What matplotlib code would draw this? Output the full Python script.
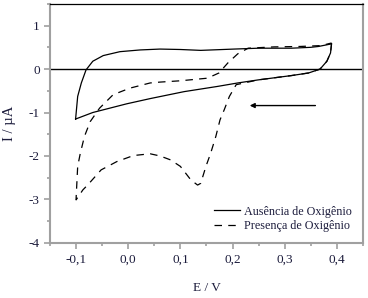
import numpy as np
import matplotlib
matplotlib.use('Agg')
import matplotlib.pyplot as plt
from matplotlib.ticker import MultipleLocator, FuncFormatter

plt.rcParams['font.family'] = ['Liberation Serif', 'DejaVu Serif']

# Ausencia de oxigenio (closed voltammogram loop)
e_sem = [-0.101, -0.097, -0.090, -0.081, -0.068, -0.048, -0.016, 0.023, 0.061, 0.10, 0.139,
         0.203, 0.25, 0.313, 0.35, 0.365, 0.39, 0.388, 0.381, 0.368, 0.346, 0.313, 0.249,
         0.21, 0.171, 0.107, 0.042, -0.003, -0.068, -0.101]
i_sem = [-1.15, -0.63, -0.32, -0.02, 0.18, 0.31, 0.40, 0.44, 0.46, 0.45, 0.43,
         0.46, 0.48, 0.48, 0.50, 0.52, 0.58, 0.37, 0.18, 0.0, -0.09, -0.15, -0.25,
         -0.32, -0.40, -0.52, -0.68, -0.80, -1.0, -1.15]

# Presenca de oxigenio
e_com = [0.39, 0.388, 0.381, 0.368, 0.346, 0.313, 0.249, 0.207, 0.194, 0.184, 0.176,
         0.168, 0.158, 0.149, 0.139, 0.133, 0.12, 0.10, 0.081, 0.061, 0.042, 0.01,
         -0.022, -0.052, -0.078, -0.087, -0.1,
         -0.1, -0.097, -0.092, -0.084, -0.073, -0.055, -0.029, 0.003, 0.042, 0.061,
         0.10, 0.152, 0.174, 0.191, 0.21, 0.23, 0.28, 0.33, 0.37, 0.39]
i_com = [0.60, 0.37, 0.18, 0.0, -0.09, -0.15, -0.25, -0.36, -0.63, -0.94, -1.17,
         -1.55, -1.94, -2.24, -2.63, -2.67, -2.55, -2.24, -2.09, -2.0, -1.95, -1.99,
         -2.13, -2.32, -2.67, -2.78, -3.01,
         -2.97, -2.24, -1.94, -1.55, -1.21, -0.90, -0.59, -0.44, -0.32, -0.30,
         -0.27, -0.21, -0.09, 0.14, 0.35, 0.48, 0.51, 0.52, 0.54, 0.60]

text_color = '#1c1c3c'
spine_gray = '#a0a0a0'

fig = plt.figure(figsize=(3.68, 2.98), dpi=100)
ax = fig.add_axes([0.136, 0.185, 0.850, 0.802])

ax.axhline(0, color='black', lw=1.0)
ax.plot(e_sem, i_sem, color='black', lw=0.9, label='Ausência de Oxigênio')
ax.plot(e_com, i_com, color='black', lw=0.9, ls=(0, (6, 5)), label='Presença de Oxigênio')

ax.annotate('', xy=(0.233, -0.84), xytext=(0.359, -0.84),
            arrowprops=dict(arrowstyle='-|>', color='black', lw=1.0,
                            mutation_scale=7, shrinkA=0, shrinkB=0))

ax.set_xlim(-0.15, 0.45)
ax.set_ylim(-4, 1.5)
ax.xaxis.set_major_locator(MultipleLocator(0.1))
ax.xaxis.set_minor_locator(MultipleLocator(0.05))
ax.yaxis.set_major_locator(MultipleLocator(1))
ax.yaxis.set_minor_locator(MultipleLocator(0.5))
ax.xaxis.set_major_formatter(FuncFormatter(lambda v, p: f'{v:.1f}'.replace('.', ',').replace('-0,0', '0,0')))
ax.yaxis.set_major_formatter(FuncFormatter(lambda v, p: '0' if abs(v) < 0.5 else f'{v:.0f}'))

ax.tick_params(which='both', direction='out', color=spine_gray, labelcolor=text_color,
               labelsize=9.5, width=1.2, top=False, right=False)
ax.tick_params(which='major', length=4)
ax.tick_params(which='minor', length=2.5)

for side in ['left', 'bottom', 'right']:
    ax.spines[side].set_color(spine_gray)
    ax.spines[side].set_linewidth(1.5)
ax.spines['top'].set_color('black')
ax.spines['top'].set_linewidth(0.9)

ax.set_xlabel('E / V', fontsize=9.5, color=text_color, labelpad=12)
ax.set_ylabel('I / µA', fontsize=10.5, color=text_color, labelpad=9)

leg = ax.legend(loc='lower right', frameon=False, fontsize=8.7, handlelength=2.2,
                handletextpad=0.3, labelspacing=0.2, borderaxespad=0.5)
for t in leg.get_texts():
    t.set_color(text_color)

fig.savefig('out.png', dpi=100)
